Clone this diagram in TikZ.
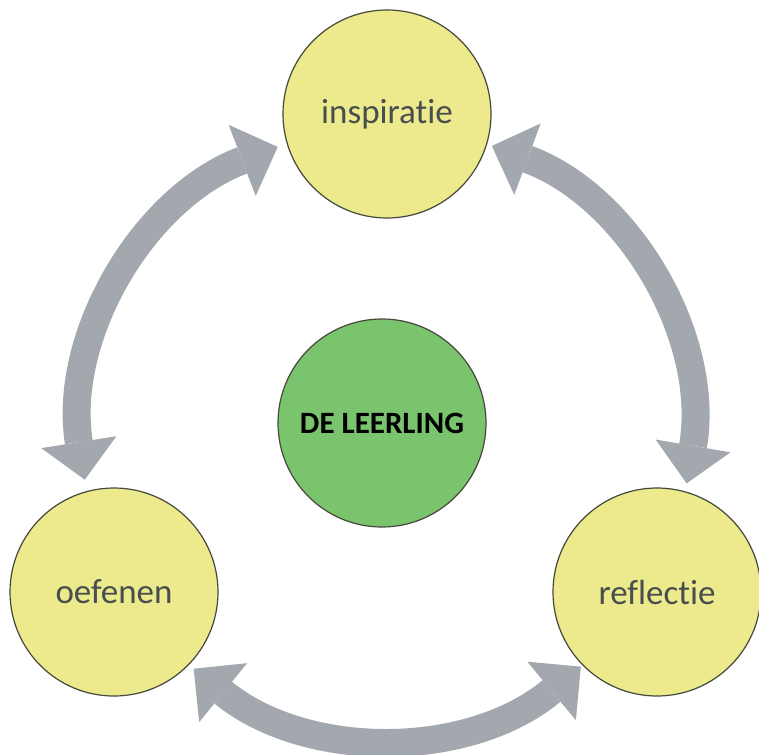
\documentclass[tikz,border=0pt]{standalone}
\usepackage{fontspec}
\setmainfont{Carlito}[Ligatures={NoCommon,NoRequired,NoContextual}]
\usetikzlibrary{arrows.meta}
\definecolor{circfill}{RGB}{236,234,140}
\definecolor{greenfill}{RGB}{123,196,110}
\definecolor{arrowgray}{RGB}{163,168,174}
\definecolor{rimcol}{RGB}{70,72,60}
\definecolor{labelcol}{RGB}{72,78,78}
\begin{document}
\begin{tikzpicture}[x=1pt,y=1pt,
  phase/.style={circle, draw=rimcol, line width=1.2pt, fill=circfill, minimum size=208pt, inner sep=0pt, font=\fontsize{35}{40}\selectfont, text=labelcol},
  core/.style={circle, draw=rimcol, line width=1.2pt, fill=greenfill, minimum size=208pt, inner sep=0pt, font=\bfseries\fontsize{31}{36}\selectfont, text=black},
  cyclearrow/.style={draw=arrowgray, line width=28pt, {Triangle[length=38pt,width=76pt,line width=0pt]}-{Triangle[length=38pt,width=76pt,line width=0pt]}}
]
\useasboundingbox (0,0) rectangle (759,-754);
\fill[white] (0,0) rectangle (759,-754);
\coordinate (c) at (386,-432);
\draw[cyclearrow] ([shift={(189:305)}]c) arc[start angle=189, end angle=110.8, radius=305];
\draw[cyclearrow] ([shift={(69.7:305)}]c) arc[start angle=69.7, end angle=-9.7, radius=305];
\draw[cyclearrow] ([shift={(230.9:305)}]c) arc[start angle=230.9, end angle=309.7, radius=305];
\node[phase] (insp) at (387,-114) {inspiratie};
\node[phase] (oef) at (114,-592) {oefenen};
\node[phase] (refl) at (657,-592) {reflectie};
\node[core] (leer) at (382,-423) {DE LEERLING};
\end{tikzpicture}
\end{document}
